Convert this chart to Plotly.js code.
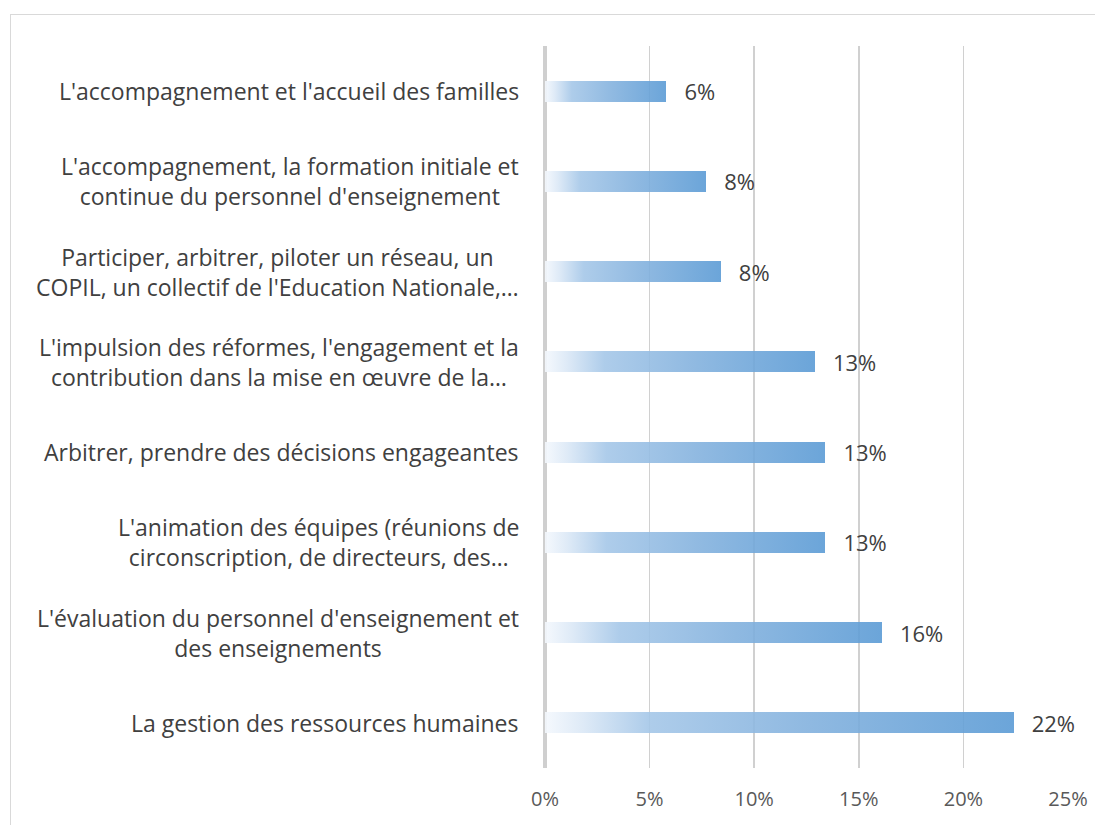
<!DOCTYPE html>
<html>
<head>
<meta charset="utf-8">
<script src="https://cdn.plot.ly/plotly-3.0.1.min.js"></script>
<style>
  html, body { margin: 0; padding: 0; background: #ffffff; overflow: hidden; }
  #wrap { position: relative; width: 1095px; height: 825px; overflow: hidden; }
  #chart { position: absolute; left: 0; top: 0; width: 1095px; height: 825px; }
  #frame { position: absolute; left: 10px; top: 14px; width: 1200px; height: 1000px;
           border: 1.5px solid #d9d9d9; pointer-events: none; box-sizing: border-box; }
</style>
</head>
<body>
<div id="wrap">
  <div id="chart"></div>
  <div id="frame"></div>
</div>
<script>
// ---- data (top to bottom) ----
const categories = [
  "L'accompagnement et l'accueil des familles",
  "L'accompagnement, la formation initiale et<br>continue du personnel d'enseignement",
  "Participer, arbitrer, piloter un réseau, un<br>COPIL, un collectif de l'Education Nationale,…",
  "L'impulsion des réformes, l'engagement et la<br>contribution dans la mise en œuvre de la…",
  "Arbitrer, prendre des décisions engageantes",
  "L'animation des équipes (réunions de<br>circonscription, de directeurs, des…",
  "L'évaluation du personnel d'enseignement et<br>des enseignements",
  "La gestion des ressources humaines"
];
const categoryIds = ["c1", "c2", "c3", "c4", "c5", "c6", "c7", "c8"];
const values = [0.058, 0.077, 0.084, 0.129, 0.134, 0.134, 0.161, 0.224];
const xTickValues = [0, 0.05, 0.10, 0.15, 0.20, 0.25];
const xTickLabels = ["0%", "5%", "10%", "15%", "20%", "25%"];

const FONT = "Open Sans, Noto Sans, sans-serif";

const trace = {
  type: "bar",
  orientation: "h",
  y: categoryIds,
  x: values,
  width: 0.235,
  marker: { color: "#5b9bd5", opacity: 0.9, line: { width: 0 } },
  texttemplate: "\u00a0\u00a0\u2009%{x:.0%}",
  textposition: "outside",
  constraintext: "none",
  textfont: { family: FONT, size: 22, color: "#404040" },
  cliponaxis: false,
  hoverinfo: "skip"
};

const annotations = categoryIds.map((id, i) => ({
  xref: "paper", yref: "y",
  x: 0, y: id,
  xanchor: "right", yanchor: "middle",
  xshift: -24,
  text: categories[i],
  align: "center",
  showarrow: false,
  font: { family: FONT, size: 23, color: "#404040" }
}));

const layout = {
  width: 1095, height: 825,
  margin: { l: 545, r: 27, t: 46, b: 57 },
  paper_bgcolor: "#ffffff",
  plot_bgcolor: "#ffffff",
  showlegend: false,
  bargap: 0,
  font: { family: FONT, color: "#595959" },
  xaxis: {
    range: [0, 0.25],
    tickvals: xTickValues,
    ticktext: xTickLabels,
    showgrid: true,
    gridcolor: "#d0d0d0",
    gridwidth: 1.6,
    zeroline: true,
    zerolinecolor: "#cfcfcf",
    zerolinewidth: 3.5,
    showline: false,
    ticks: "",
    ticklabelstandoff: 17,
    tickfont: { family: FONT, size: 20, color: "#595959" },
    fixedrange: true
  },
  yaxis: {
    type: "category",
    categoryorder: "array",
    categoryarray: categoryIds,
    autorange: "reversed",
    showticklabels: false,
    showgrid: false,
    zeroline: false,
    ticks: "",
    fixedrange: true
  },
  annotations: annotations
};

Plotly.newPlot("chart", [trace], layout, { displayModeBar: false, staticPlot: true }).then(gd => {
  const svg = gd.querySelector("svg.main-svg");
  let defs = svg.querySelector("defs");
  if (!defs) {
    defs = document.createElementNS("http://www.w3.org/2000/svg", "defs");
    svg.insertBefore(defs, svg.firstChild);
  }
  const ns = "http://www.w3.org/2000/svg";
  const grad = document.createElementNS(ns, "linearGradient");
  grad.setAttribute("id", "barGrad");
  grad.setAttribute("x1", "0"); grad.setAttribute("y1", "0");
  grad.setAttribute("x2", "1"); grad.setAttribute("y2", "0");
  const stops = [
    [0, "#f4f8fd"],
    [0.08, "#dbe8f6"],
    [0.22, "#a5c7e8"],
    [0.55, "#84b2de"],
    [1, "#5b9bd5"]
  ];
  stops.forEach(([o, c]) => {
    const s = document.createElementNS(ns, "stop");
    s.setAttribute("offset", o);
    s.setAttribute("stop-color", c);
    grad.appendChild(s);
  });
  defs.appendChild(grad);
  gd.querySelectorAll(".barlayer .point path").forEach(p => {
    p.style.fill = "url(#barGrad)";
  });
});
</script>
</body>
</html>
